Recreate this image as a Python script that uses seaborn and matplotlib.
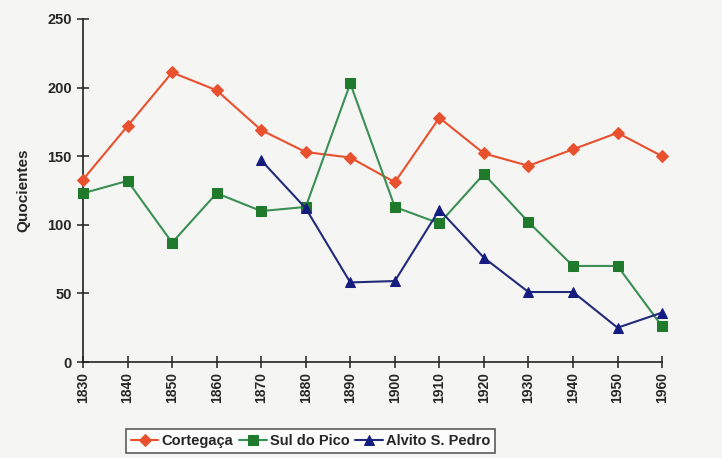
import matplotlib
matplotlib.use("Agg")
import matplotlib.pyplot as plt
import seaborn as sns
import pandas as pd

decades = [1830, 1840, 1850, 1860, 1870, 1880, 1890, 1900, 1910, 1920, 1930, 1940, 1950, 1960]
cortegaca = [133, 172, 211, 198, 169, 153, 149, 131, 178, 152, 143, 155, 167, 150]
sul_do_pico = [123, 132, 87, 123, 110, 113, 203, 113, 101, 137, 102, 70, 70, 26]
alvito_years = [1870, 1880, 1890, 1900, 1910, 1920, 1930, 1940, 1950, 1960]
alvito = [147, 112, 58, 59, 111, 76, 51, 51, 25, 36]
y_ticks = [0, 50, 100, 150, 200, 250]

sns.set_theme(style="white")
plt.rcParams['font.family'] = ['Liberation Sans', 'DejaVu Sans']

fig = plt.figure(figsize=(7.22, 4.58), dpi=100)
bg = "#f5f5f3"
fig.patch.set_facecolor(bg)
ax = fig.add_axes([0.115, 0.2096, 0.802, 0.749])
ax.set_facecolor(bg)

series = [
    ("Cortegaça", decades, cortegaca, "#e8502e", "#e8502e", "D", 6),
    ("Sul do Pico", decades, sul_do_pico, "#3a8f55", "#1f7a2c", "s", 7),
    ("Alvito S. Pedro", alvito_years, alvito, "#232a7a", "#151c80", "^", 7.5),
]
for name, xs, ys, lc, mc, mk, ms in series:
    df = pd.DataFrame({"x": xs, "y": ys})
    sns.lineplot(data=df, x="x", y="y", ax=ax, color=lc, linewidth=1.5,
                 marker=mk, markersize=ms, markerfacecolor=mc, markeredgecolor=mc,
                 label=name, legend=False, clip_on=False, zorder=3)

ax.set_xlim(1830, 1960)
ax.set_ylim(0, 250)
ax.set_xticks(decades)
ax.set_xticklabels([str(d) for d in decades], rotation=90, fontweight="bold", fontsize=10)
ax.set_yticks(y_ticks)
ax.set_yticklabels([str(v) for v in y_ticks], fontweight="bold", fontsize=10.5)
ax.set_xlabel("")
ax.set_ylabel("Quocientes", fontweight="bold", fontsize=11, labelpad=12)

for s in ["top", "right"]:
    ax.spines[s].set_visible(False)
for s in ["left", "bottom"]:
    ax.spines[s].set_color("#222222")
    ax.spines[s].set_linewidth(1.2)
ax.tick_params(axis="both", direction="inout", length=8, width=1.1, color="#222222",
               bottom=True, left=True, pad=4)
ax.tick_params(axis="x", pad=3)

handles, labels = ax.get_legend_handles_labels()
leg = fig.legend(handles, labels, loc="upper center", bbox_to_anchor=(0.43, 0.08),
                 ncol=3, frameon=True, fancybox=False, handlelength=1.9,
                 handletextpad=0.2, columnspacing=0.4, borderpad=0.35,
                 prop={"weight": "bold", "size": 10.5})
leg.get_frame().set_edgecolor("#333333")
leg.get_frame().set_linewidth(1.2)
leg.get_frame().set_facecolor("white")

fig.savefig("out.png", dpi=100, facecolor=fig.get_facecolor())
